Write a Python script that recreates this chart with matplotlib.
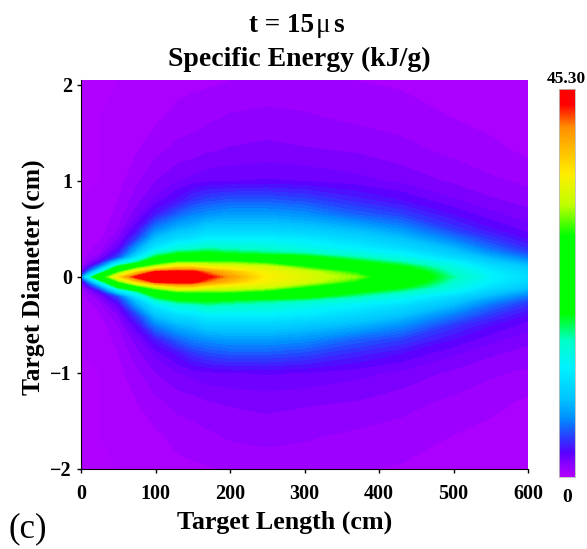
import matplotlib
matplotlib.use('Agg')
import matplotlib.pyplot as plt
from matplotlib.colors import LinearSegmentedColormap
import numpy as np

plt.rcParams['font.family'] = ['Liberation Serif', 'DejaVu Serif']
plt.rcParams['font.weight'] = 'bold'

W, H = 587, 549
E_MAX = 45.30

# stations along the target (cm) and radius off the axis (cm)
lengths = [0, 25, 50, 75, 100, 130, 150, 170, 200, 250, 300, 370, 430, 500, 550, 600]
radii = [0, .05, .1, .15, .2, .25, .3, .4, .5, .65, .8, 1.0, 1.3, 1.65, 2.05]

# specific energy, one row per radius
energy = [
    [6.0, 25, 36, 44, 45, 45.3, 45, 44, 40, 35, 33.5, 30.5, 23, 16.5, 13, 11],
    [1.5, 14, 29, 37, 43.8, 44.5, 44.2, 41, 38, 34.5, 33, 28, 22, 15.5, 12.5, 10.5],
    [.5, 7, 20, 28, 33, 37, 37, 35, 34, 33, 29, 23, 19.5, 14.5, 11.5, 9.5],
    [.2, 3, 11, 17, 26, 30, 30, 30, 30, 28, 24, 19.5, 16.5, 13, 10, 7.8],
    [.1, 1.6, 5, 12, 19, 23, 23.5, 24, 23, 21, 20, 16.5, 14, 11, 8.5, 6.2],
    [.1, 1, 3.5, 9, 15, 18, 18.5, 19, 18, 17, 16, 14, 12.5, 9.5, 7, 4.8],
    [.1, .7, 2.5, 7.5, 12, 14.5, 15, 16, 15.5, 15, 14, 12.5, 11, 8.5, 5.8, 4],
    [0, .4, 1.5, 4.5, 9, 11, 11.5, 12.5, 12.5, 12.5, 12, 10.5, 9, 6.2, 4.3, 2.9],
    [0, .2, 1, 3, 6.5, 8.5, 9, 10, 10, 10, 9.5, 8.5, 7, 4.4, 3.1, 2.3],
    [0, .1, .7, 1.8, 3.5, 5.5, 6.5, 7, 7.5, 7.5, 7, 5.5, 4.6, 3, 2.2, 1.7],
    [0, .1, .5, 1.3, 2.2, 3.2, 4.2, 4.8, 5.2, 5.2, 4.8, 3.8, 3, 2.1, 1.6, 1.3],
    [0, 0, .3, .9, 1.5, 2, 2.2, 2.4, 2.5, 2.6, 2.5, 2.2, 1.9, 1.4, 1.1, .9],
    [0, 0, .2, .5, .9, 1.2, 1.3, 1.5, 1.6, 1.7, 1.6, 1.5, 1.2, .9, .7, .4],
    [0, 0, .1, .2, .4, .7, .8, .9, 1.1, 1.2, 1.1, .9, .8, .5, .3, .1],
    [0, 0, 0, .1, .2, .3, .35, .4, .5, .6, .6, .5, .4, .2, .1, 0],
]

# colour bar stops, bottom to top
stops = [0, .03, .06, .10, .15, .20, .28, .35, .42, .62, .70, .78, .90, .96, 1]
colors = ['#b000ff', '#8c00ff', '#5a00ff', '#2a3cff', '#0090ff', '#00c4ff', '#00f2ff',
          '#00ffc8', '#00ff00', '#00ff00', '#c0ff00', '#ffee00', '#ff9000', '#ff0000', '#ff0000']

xticks = [0, 100, 200, 300, 400, 500, 600]
yticks = [-2, -1, 0, 1, 2]

# the target is close to symmetric, so the lower half mirrors the upper one
z = np.array(energy)
r = np.array(radii)
y_all = np.concatenate([-r[:0:-1], r])
z_all = np.vstack([z[:0:-1], z])

cmap = LinearSegmentedColormap.from_list('energy', list(zip(stops, colors)), N=256)


def box(x0, y0, x1, y1):
    return [x0 / W, 1 - y1 / H, (x1 - x0) / W, (y1 - y0) / H]


def label(x, y, s, **kw):
    fig.text(x / W, 1 - y / H, s, ha='center', va='center', **kw)


fig = plt.figure(figsize=(W / 100, H / 100), dpi=100)
ax = fig.add_axes(box(81, 80, 528, 469))
cs = ax.contourf(lengths, y_all, z_all, levels=np.linspace(0, E_MAX, 90), cmap=cmap, extend='both')
ax.set_xlim(0, 600)
ax.set_ylim(-2, 2.05)
ax.set_xticks(xticks)
ax.set_yticks(yticks)
ax.set_yticklabels(['\u22122', '\u22121', '0', '1', '2'])
ax.tick_params(labelsize=14.5, length=3, width=1)
ax.tick_params(axis='x', pad=8)
ax.spines['top'].set_visible(False)
ax.spines['right'].set_visible(False)

cax = fig.add_axes(box(559, 89, 575, 477))
grad = np.linspace(0, 1, 256).reshape(-1, 1)
cax.imshow(grad, aspect='auto', origin='lower', cmap=cmap)
cax.set_xticks([])
cax.set_yticks([])
for s in cax.spines.values():
    s.set_color('#bbbbbb')
    s.set_linewidth(.6)

# mu is upright in the reference, the rest of the title is bold
label(282, 25, 't = 15', fontsize=19.5)
label(323, 25, '\u03bc', fontsize=19.5, fontweight='normal')
label(338, 25, 's', fontsize=19.5)
label(299, 59, 'Specific Energy (kJ/g)', fontsize=20)
label(285, 522, 'Target Length (cm)', fontsize=18.7)
label(33, 277, 'Target Diameter (cm)', fontsize=18.4, rotation=90)
label(566, 79, '45.30', fontsize=12.5)
label(567, 497, '0', fontsize=14)
label(28, 529, '(c)', fontsize=25, fontweight='normal')

fig.savefig('out.png', dpi=100)
